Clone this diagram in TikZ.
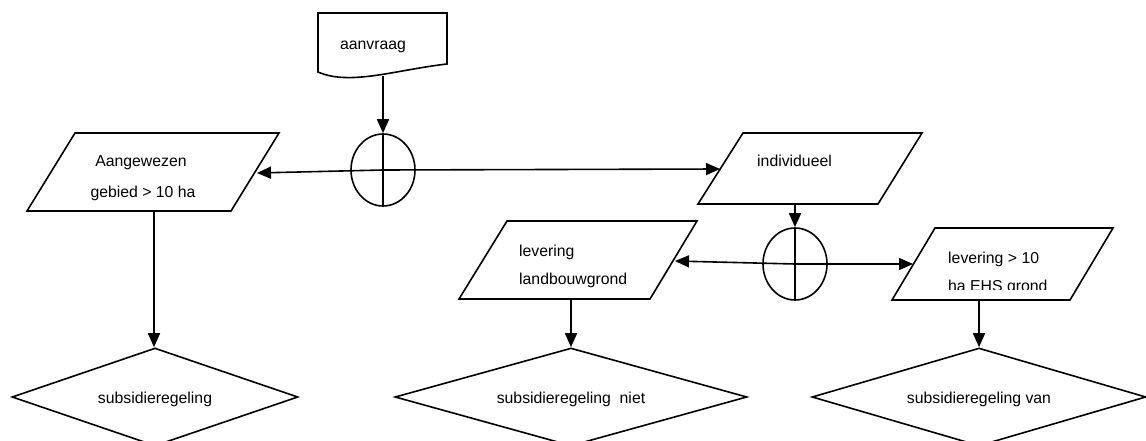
\documentclass[tikz,border=0pt]{standalone}
\usepackage{fontspec}
\setmainfont{Liberation Sans}
\usetikzlibrary{shapes.geometric,arrows.meta}
\begin{document}
\begin{tikzpicture}[x=1pt,y=-1pt,
  every node/.style={font=\fontsize{15.8}{19}\selectfont, inner sep=0pt},
  shp/.style={draw=black, line width=1.6pt, line join=miter},
  arr/.style={draw=black, line width=1.6pt, -{Triangle[length=14pt,width=12pt]}},
  ln/.style={draw=black, line width=1.6pt},
  junc/.style={draw=black, line width=1.6pt, ellipse, minimum width=64pt, minimum height=72pt},
  dec/.style={draw=black, line width=1.6pt, diamond},
  lbl/.style={anchor=base},
  lblw/.style={anchor=base west}]
\clip (0,0) rectangle (1146,441);
\fill[white] (0,0) rectangle (1146,441);

% document shape "aanvraag"
\draw[shp] (318,72) -- (318,13) -- (447,13) -- (447,64)
  .. controls (395,70) and (350,86) .. (318,72) -- cycle;
\node[lbl] (doc) at (373,50) {aanvraag};
\coordinate (docb) at (383,76);

% junction 1
\node[junc] (c1) at (383,170) {};
\draw[ln] (c1.north) -- (c1.south);

% parallelogram Aangewezen
\draw[shp] (27,211) -- (231,211) -- (279,133) -- (75,133) -- cycle;
\node[lbl] (p1a) at (141,167) {Aangewezen};
\node[lbl] (p1b) at (143,197) {gebied > 10 ha};
\coordinate (p1e) at (257,173);
\coordinate (p1s) at (154,211);

% parallelogram individueel
\draw[shp] (698,204) -- (878,204) -- (922,133) -- (743,133) -- cycle;
\node[lblw] (p2) at (757,167) {individueel};
\coordinate (p2w) at (720,169);
\coordinate (p2s) at (795,204);

% junction 2
\node[junc] (c2) at (795,264) {};
\draw[ln] (c2.north) -- (c2.south);

% parallelogram levering landbouwgrond
\draw[shp] (459,299) -- (650,299) -- (697,221) -- (507,221) -- cycle;
\node[lblw] (p3a) at (519,256) {levering};
\node[lblw] (p3b) at (519,284) {landbouwgrond};
\coordinate (p3e) at (675,261);
\coordinate (p3s) at (571,299);

% parallelogram levering > 10
\draw[shp] (892,300) -- (1070,300) -- (1113,228) -- (935,228) -- cycle;
\node[lblw] (p4a) at (948,263) {levering > 10};
\begin{scope}
\clip (940,230) rectangle (1100,289);
\node[lblw] (p4b) at (948,291) {ha EHS grond};
\end{scope}
\coordinate (p4w) at (913,264);
\coordinate (p4s) at (979,300);

% decisions
\node[dec, minimum width=286pt, minimum height=98pt] (d1) at (155,397) {};
\node[lbl] at (155,403) {subsidieregeling};
\node[dec, minimum width=352pt, minimum height=98pt] (d2) at (571,397) {};
\node[lbl] at (571,403) {subsidieregeling\ \ niet};
\node[dec, minimum width=334pt, minimum height=98pt] (d3) at (979,397) {};
\node[lbl] at (979,403) {subsidieregeling van};

% connectors
\draw[arr] (docb) -- (c1.north);
\draw[arr] (c1.center) -- (p1e);
\draw[arr] (c1.center) -- (p2w);
\draw[arr] (p2s) -- (c2.north);
\draw[arr] (c2.center) -- (p3e);
\draw[arr] (c2.center) -- (p4w);
\draw[arr] (p1s) -- (p1s |- d1.north);
\draw[arr] (p3s) -- (d2.north);
\draw[arr] (p4s) -- (d3.north);
\end{tikzpicture}
\end{document}
